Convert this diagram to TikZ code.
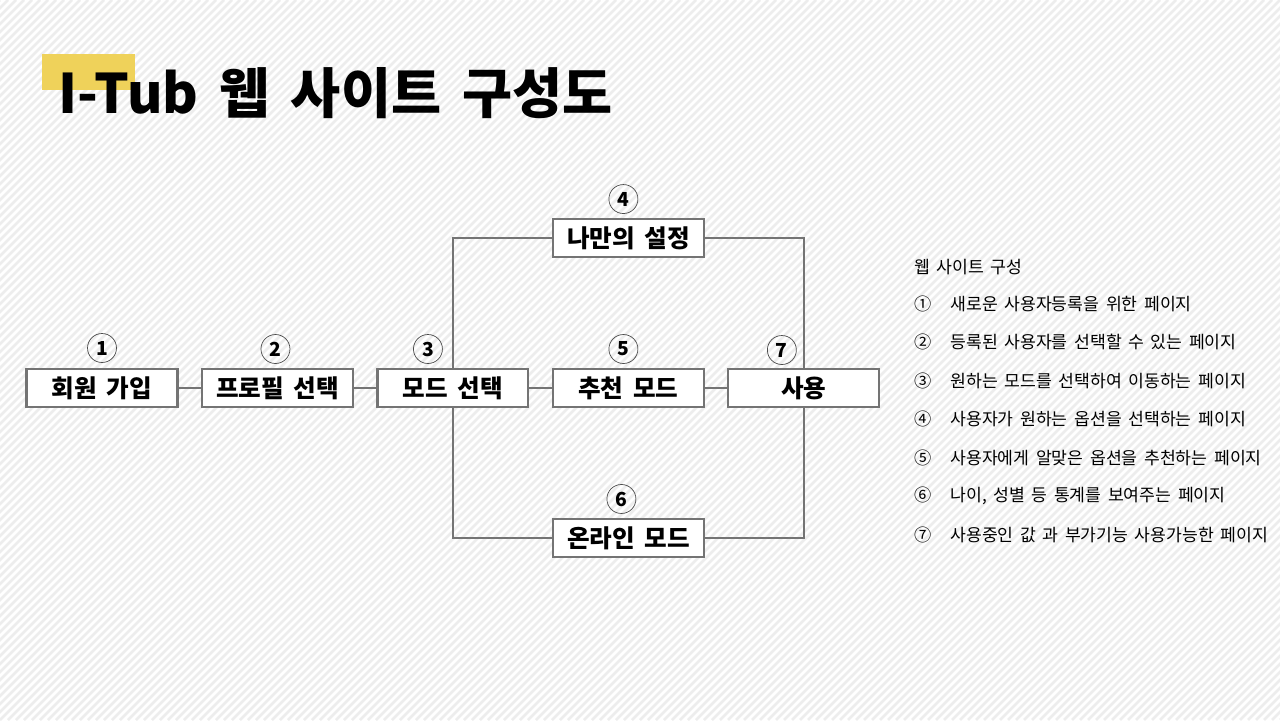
\documentclass[tikz,border=0pt]{standalone}
\usepackage{fontspec}
\setmainfont[WordSpace=1.7]{Noto Sans CJK KR}
\usetikzlibrary{positioning}
\definecolor{tubyellow}{HTML}{EFD25A}
\definecolor{linegray}{HTML}{747474}

\begin{document}
\begin{tikzpicture}[x=0.02cm,y=-0.02cm,node distance=3.51cm,
                    page box/.style={rectangle,draw=linegray,line width=1.2pt,fill=white,
                      minimum width=3.02cm,minimum height=0.76cm,font=\fontsize{14}{16}\selectfont\bfseries},
                    num/.style={circle,draw=black!70,thin,minimum size=0.58cm,inner sep=0pt,
                      font=\fontsize{11}{12}\selectfont\bfseries},
                    link/.style={draw=linegray,line width=1.2pt},
                    legend/.style={anchor=west,inner sep=0pt,font=\fontsize{9.8}{11}\selectfont}
                   ]

  % striped background
  \useasboundingbox (0,0) rectangle (1280,720);
  \fill[white] (0,0) rectangle (1280,720);
  \begin{scope}
    \clip (0,0) rectangle (1280,720);
    \foreach \s in {-720,-712,...,1280}
      \draw[black!7,line width=1.5pt] (\s,720) -- (\s+720,0);
  \end{scope}

  % title
  \fill[tubyellow] (42,54) rectangle (135,90);
  \node[anchor=base west,inner sep=0pt,font=\fontsize{31}{34}\selectfont\bfseries] (title) at (58,113) {I-Tub 웹 사이트 구성도};

  \node[page box] (join) at (102,388) {회원 가입};
  \node[page box] (profile) [right of=join] {프로필 선택};
  \node[page box] (mode) [right of=profile] {모드 선택};
  \node[page box] (recom) [right of=mode] {추천 모드};
  \node[page box] (use) [right of=recom] {사용};
  \node[page box] (custom) [above of=recom, node distance=3cm] {나만의 설정};
  \node[page box] (online) [below of=recom, node distance=3cm] {온라인 모드};

  \node[num] (n1) [above of=join, node distance=0.8cm] {1};
  \node[num] (n2) [above of=profile, node distance=0.78cm, xshift=-0.04cm] {2};
  \node[num] (n3) [above of=mode, node distance=0.78cm, xshift=-0.5cm] {3};
  \node[num] (n4) [above of=custom, node distance=0.78cm, xshift=-0.1cm] {4};
  \node[num] (n5) [above of=recom, node distance=0.78cm, xshift=-0.1cm] {5};
  \node[num] (n6) [above of=online, node distance=0.78cm, xshift=-0.14cm] {6};
  \node[num] (n7) [above of=use, node distance=0.76cm, xshift=-0.44cm] {7};

  \draw[link] (join) -- (profile);
  \draw[link] (profile) -- (mode);
  \draw[link] (mode) -- (recom);
  \draw[link] (recom) -- (use);
  \draw[link] (mode) |- (custom);
  \draw[link] (custom) -| (use);
  \draw[link] (mode) |- (online);
  \draw[link] (online) -| (use);

  % legend
  \node[legend] (lhead) at (914,267) {웹 사이트 구성};
  \node[legend] (l1) at (914,304) {\makebox[0.72cm][l]{①}새로운 사용자등록을 위한 페이지};
  \node[legend] (l2) at (914,342) {\makebox[0.72cm][l]{②}등록된 사용자를 선택할 수 있는 페이지};
  \node[legend] (l3) at (914,381) {\makebox[0.72cm][l]{③}원하는 모드를 선택하여 이동하는 페이지};
  \node[legend] (l4) at (914,419) {\makebox[0.72cm][l]{④}사용자가 원하는 옵션을 선택하는 페이지};
  \node[legend] (l5) at (914,458) {\makebox[0.72cm][l]{⑤}사용자에게 알맞은 옵션을 추천하는 페이지};
  \node[legend] (l6) at (914,496) {\makebox[0.72cm][l]{⑥}나이, 성별 등 통계를 보여주는 페이지};
  \node[legend] (l7) at (914,535) {\makebox[0.72cm][l]{⑦}사용중인 값 과 부가기능 사용가능한 페이지};
\end{tikzpicture}
\end{document}
